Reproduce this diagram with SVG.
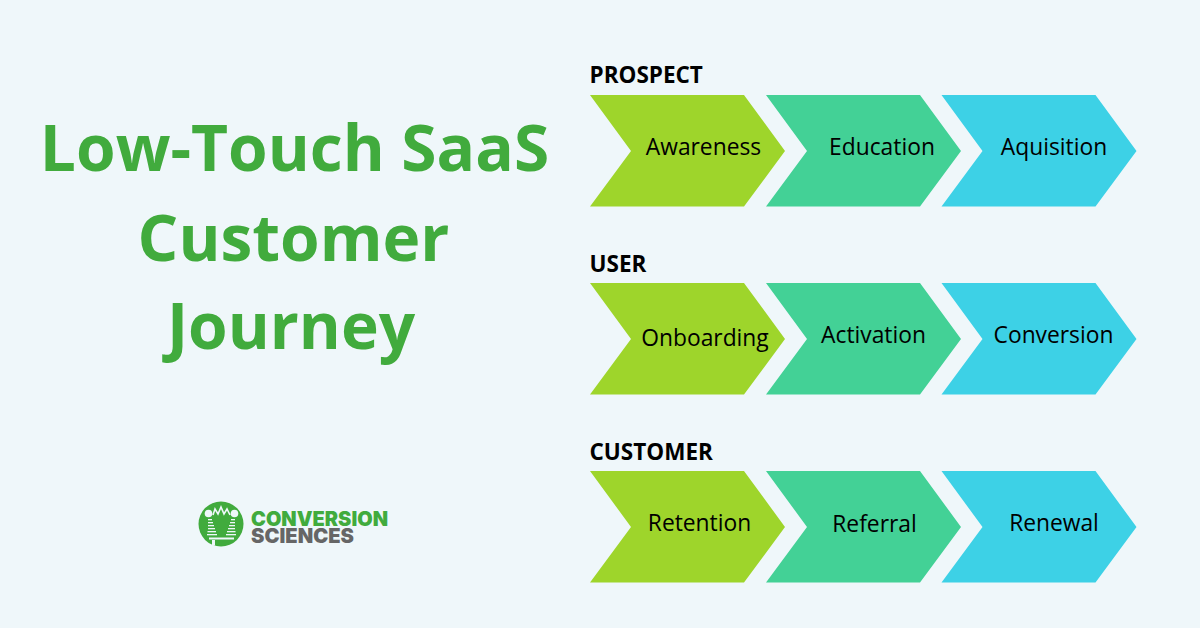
<svg xmlns="http://www.w3.org/2000/svg" width="1200" height="628" viewBox="0 0 1200 628">
<defs>
<style>
text{font-family:"Open Sans","Liberation Sans",sans-serif}
.title{font-size:64px;font-weight:700;fill:#41ab3d;text-anchor:middle}
.head{font-size:22.500px;font-weight:700;fill:#000}
.lab{font-size:22.800px;fill:#000;text-anchor:middle}
.logo{font-size:20px;font-weight:900;font-family:Inter,"Liberation Sans",sans-serif}
.a{fill:#9ed52b}.b{fill:#43d196}.c{fill:#3dd1e6}
</style>
<polygon id="chev" points="0,0 154,0 195,56 154,111.500 0,111.500 41,56"/>
</defs>
<rect width="1200" height="628" fill="#eff7fa"/>
<g id="title">
<text class="title" x="294.500" y="171">Low-Touch SaaS</text>
<text class="title" x="293.500" y="261">Customer</text>
<text class="title" x="291" y="349">Journey</text>
</g>
<g id="logo">
<circle cx="221" cy="524" r="22.500" fill="#41ab3d"/>
<g fill="#eff7fa">
<circle cx="208.500" cy="513.500" r="3.800"/><circle cx="234.500" cy="513.500" r="3.800"/>
<rect x="208" y="519" width="4" height="1.300"/><rect x="208" y="522" width="5" height="1.300"/><rect x="208" y="525" width="6" height="1.300"/><rect x="208" y="528" width="7" height="1.300"/><rect x="207.500" y="531" width="8.500" height="1.300"/><rect x="207" y="534" width="10" height="1.300"/>
<rect x="231" y="519" width="4" height="1.300"/><rect x="230" y="522" width="5" height="1.300"/><rect x="229" y="525" width="6" height="1.300"/><rect x="228" y="528" width="7" height="1.300"/><rect x="227" y="531" width="8.500" height="1.300"/><rect x="226" y="534" width="10" height="1.300"/>
<rect x="209" y="537.500" width="25" height="2"/>
<rect x="212" y="540" width="3" height="5.500"/>
</g>
<polyline points="213,515 215,509 218,514 221,507 224,514 227,509 230,515" fill="none" stroke="#eff7fa" stroke-width="1.600"/>
<text class="logo" x="251" y="525.500" fill="#41ab3d" textLength="137" lengthAdjust="spacingAndGlyphs">CONVERSION</text>
<text class="logo" x="251" y="542.500" fill="#666666" textLength="103" lengthAdjust="spacingAndGlyphs">SCIENCES</text>
</g>
<g id="row-prospect">
<text class="head" x="589.500" y="83">PROSPECT</text>
<g id="awareness"><use href="#chev" class="a" x="590" y="95"/><text class="lab" x="703.500" y="155">Awareness</text></g>
<g id="education"><use href="#chev" class="b" x="766" y="95"/><text class="lab" x="882" y="155">Education</text></g>
<g id="aquisition"><use href="#chev" class="c" x="941.500" y="95"/><text class="lab" x="1054" y="155">Aquisition</text></g>
</g>
<g id="row-user">
<text class="head" x="589.500" y="271.500">USER</text>
<g id="onboarding"><use href="#chev" class="a" x="590" y="283"/><text class="lab" x="705" y="346">Onboarding</text></g>
<g id="activation"><use href="#chev" class="b" x="766" y="283"/><text class="lab" x="873.500" y="343">Activation</text></g>
<g id="conversion"><use href="#chev" class="c" x="941.500" y="283"/><text class="lab" x="1053.500" y="343">Conversion</text></g>
</g>
<g id="row-customer">
<text class="head" x="589.500" y="459.500">CUSTOMER</text>
<g id="retention"><use href="#chev" class="a" x="590" y="471"/><text class="lab" x="699.500" y="531">Retention</text></g>
<g id="referral"><use href="#chev" class="b" x="766" y="471"/><text class="lab" x="874.500" y="532">Referral</text></g>
<g id="renewal"><use href="#chev" class="c" x="941.500" y="471"/><text class="lab" x="1054" y="531">Renewal</text></g>
</g>
<g id="connectors"></g>
</svg>
